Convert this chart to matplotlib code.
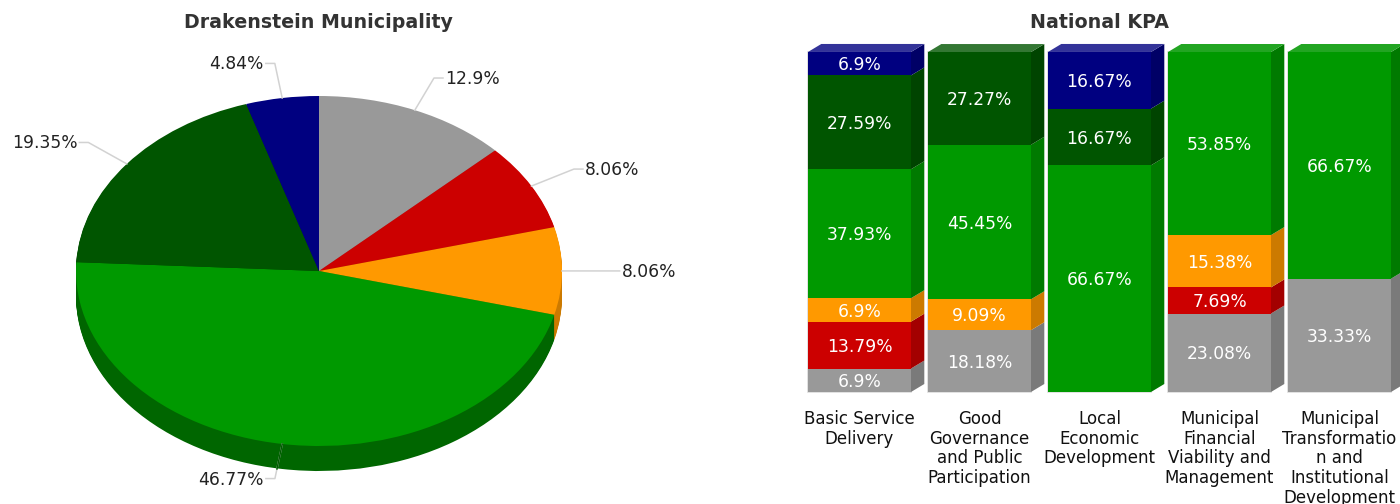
import matplotlib
matplotlib.use("Agg")
import matplotlib.pyplot as plt
from matplotlib.patches import Polygon
import numpy as np

W, H = 1400, 504

# pie data, clockwise from the top
pie_values = [12.9, 8.06, 8.06, 46.77, 19.35, 4.84]
pie_labels = ["12.9%", "8.06%", "8.06%", "46.77%", "19.35%", "4.84%"]

# stacked bars, bottom to top
categories = ["Basic Service\nDelivery",
              "Good\nGovernance\nand Public\nParticipation",
              "Local\nEconomic\nDevelopment",
              "Municipal\nFinancial\nViability and\nManagement",
              "Municipal\nTransformatio\nn and\nInstitutional\nDevelopment"]
grey = [6.9, 18.18, 0, 23.08, 33.33]
red = [13.79, 0, 0, 7.69, 0]
orange = [6.9, 9.09, 0, 15.38, 0]
green = [37.93, 45.45, 66.67, 53.85, 66.67]
dark_green = [27.59, 27.27, 16.67, 0, 0]
navy = [6.9, 0, 16.67, 0, 0]
bar_labels = [["6.9%", "18.18%", "", "23.08%", "33.33%"],
              ["13.79%", "", "", "7.69%", ""],
              ["6.9%", "9.09%", "", "15.38%", ""],
              ["37.93%", "45.45%", "66.67%", "53.85%", "66.67%"],
              ["27.59%", "27.27%", "16.67%", "", ""],
              ["6.9%", "", "16.67%", "", ""]]

# colours: front, side, top
pie_colors = ["#999999", "#cc0000", "#ff9900", "#009900", "#005500", "#000080"]
pie_side = ["#7a7a7a", "#a30000", "#cc7a00", "#006600", "#004400", "#000066"]
side_colors = ["#7a7a7a", "#a30000", "#cc7a00", "#007a00", "#004400", "#000066"]
top_colors = ["#adadad", "#d63333", "#ffad33", "#22a522", "#337733", "#333399"]
TEXT = "#222222"
LEADER = "#d2d2d2"
LABEL_SIZE = 12.3


def px_axes(left, top, right, bottom):
    """Axes placed by pixel edges of the picture."""
    return fig.add_axes([left / W, 1 - bottom / H, (right - left) / W, (bottom - top) / H])


fig = plt.figure(figsize=(W / 100, H / 100), dpi=100, facecolor="white")
plt.rcParams["font.family"] = "DejaVu Sans"

# ---- pie ----
ax = px_axes(76, 96, 562, 446)
rx, ry = 243.0, 175.0
depth = 25
for d in range(depth, 0, -1):
    ax.pie(pie_values, colors=pie_side, startangle=90, counterclock=False,
           center=(0, -d / ry), wedgeprops=dict(linewidth=0, clip_on=False))
ax.pie(pie_values, colors=pie_colors, startangle=90, counterclock=False,
       wedgeprops=dict(linewidth=0, clip_on=False))
ax.set_aspect("auto")
ax.set_xlim(-1, 1)
ax.set_ylim(-1, 1)
ax.axis("off")

# leader lines start at the slice middle and break at 1.2 radius
edges = np.cumsum([0] + pie_values) / sum(pie_values)
for i, txt in enumerate(pie_labels):
    a = 2 * np.pi * (edges[i] + edges[i + 1]) / 2
    sx, sy = np.sin(a), np.cos(a)
    ex, ey = 1.2 * sx, 1.2 * sy
    side = 1 if sx >= 0 else -1
    tail = ex + side * 9 / rx
    ax.plot([sx, ex, tail], [sy, ey, ey], color=LEADER, lw=1.1, clip_on=False, zorder=5)
    if abs(a - np.pi) < np.pi / 2:
        # the part across the rim of the pie is only a shade darker
        ax.plot([sx, sx + (ex - sx) * 0.72], [sy, sy + (ey - sy) * 0.72],
                color="#005c00", lw=1.1, clip_on=False, zorder=6)
    ax.text(tail + side * 2 / rx, ey - 1 / ry, txt, ha="left" if side > 0 else "right", va="center",
            fontsize=LABEL_SIZE, color=TEXT, clip_on=False)

fig.text(318 / W, 1 - 22 / H, "Drakenstein Municipality", ha="center", va="center",
         fontsize=13.7, fontweight="bold", color="#333333")

# ---- stacked bars ----
slot = 120.0
ax2 = px_axes(790, 52, 1400, 392)
ax2.set_xlim((790 - 859.5) / slot, (1400 - 859.5) / slot)
ax2.set_ylim(0, 100)
x = np.arange(len(categories))
width = 103 / slot
dx = 13.3 / slot
dy = 8 / 340 * 100

stack = np.array([grey, red, orange, green, dark_green, navy], dtype=float)

# faint outline round each whole bar
ax2.bar(x, stack.sum(axis=0), width, color="none", edgecolor="#dcdcdc", linewidth=1.2,
        clip_on=False, zorder=0)

bottom = np.zeros(len(categories))
for series, col, scol, labels in zip(stack, pie_colors, side_colors, bar_labels):
    ax2.bar(x, series, width, bottom=bottom, color=col, linewidth=0, clip_on=False, zorder=2)
    for i in x:
        if series[i] == 0:
            continue
        r = x[i] + width / 2
        b, t = bottom[i], bottom[i] + series[i]
        ax2.add_patch(Polygon([(r, b), (r + dx, b + dy), (r + dx, t + dy), (r, t)],
                              closed=True, fc=scol, lw=0, clip_on=False, zorder=1))
        ax2.text(x[i], (b + t) / 2 - 0.5, labels[i], ha="center", va="center",
                 fontsize=LABEL_SIZE, color="white", zorder=4)
    bottom += series

# top faces take the colour of the highest segment
for i in x:
    k = np.nonzero(stack[:, i])[0].max()
    l, r = x[i] - width / 2, x[i] + width / 2
    t = stack[:, i].sum()
    ax2.add_patch(Polygon([(l, t), (l + dx, t + dy), (r + dx, t + dy), (r, t)],
                          closed=True, fc=top_colors[k], lw=0, clip_on=False, zorder=1))

ax2.set_xticks(x)
ax2.set_xticklabels(categories, fontsize=12, color="#111111", linespacing=1.12)
ax2.tick_params(axis="x", length=0, pad=13)
ax2.set_yticks([])
for s in ax2.spines.values():
    s.set_visible(False)
ax2.patch.set_alpha(0)

fig.text(1099.5 / W, 1 - 22 / H, "National KPA", ha="center", va="center",
         fontsize=13.7, fontweight="bold", color="#333333")

fig.savefig("out.png", dpi=100)
